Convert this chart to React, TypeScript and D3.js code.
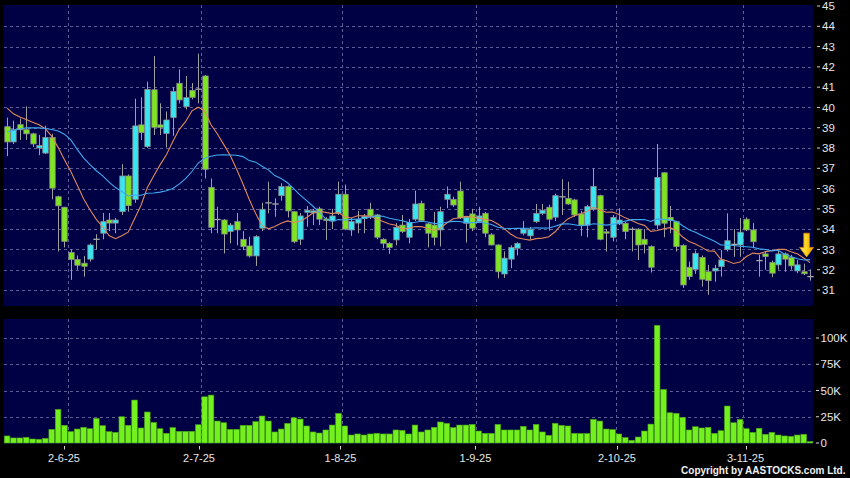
import React from "react";
import * as d3 from "d3";

// ---- data ----
const opens = [39.05,38.3,39.15,38.9,38.7,38.0,37.75,38.52,35.6,35.08,32.85,32.5,32.32,32.52,33.5,33.8,34.45,34.3,34.86,36.62,
35.47,39.14,38.07,40.87,39.14,38.72,39.5,41.19,40.04,40.84,40.92,41.55,36.06,34.5,34.45,33.88,34.37,33.5,33.17,32.68,
34.05,35.32,35.26,35.65,36.1,34.86,33.5,34.83,34.8,35.0,34.5,34.4,34.78,35.72,33.96,34.3,34.52,34.98,34.7,33.5,
33.3,33.47,34.2,33.6,34.49,35.27,34.26,34.2,33.96,35.47,35.47,35.88,34.29,34.75,34.37,34.78,33.72,33.22,31.79,32.52,
33.06,33.8,33.67,34.37,34.78,35.08,34.59,35.62,35.52,35.44,34.75,34.2,34.98,35.65,33.87,33.6,34.26,34.29,34.0,34.0,
33.5,33.14,34.2,36.78,34.58,34.37,33.2,32.12,32.02,32.61,31.9,31.94,32.15,33.0,33.27,33.22,34.49,33.96,32.47,32.78,
32.35,32.24,32.78,32.6,31.94,31.9,31.67];
const highs = [39.5,39.35,39.45,40.05,38.75,38.65,39.1,38.7,35.65,35.1,33.0,32.7,32.68,33.3,33.75,34.8,34.8,34.55,37.2,36.7,
40.43,40.5,41.27,42.53,40.2,39.8,41.0,41.88,41.55,41.2,42.65,41.6,36.5,35.1,34.5,34.3,34.8,33.9,33.63,33.7,
35.3,36.34,35.52,36.26,36.15,34.9,34.8,35.14,35.0,35.1,34.59,35.0,36.34,36.2,34.55,34.9,34.75,35.3,34.75,33.55,
33.35,34.3,34.7,34.5,35.9,35.4,34.3,34.85,35.1,36.1,35.6,36.34,34.65,35.0,35.1,34.85,33.8,33.25,32.9,33.2,
33.35,34.4,34.1,35.24,35.24,35.2,35.75,36.46,36.34,35.5,34.9,35.2,37.0,35.7,34.0,34.7,35.03,34.35,34.1,34.05,
34.0,33.2,38.2,36.8,35.14,34.4,33.25,32.4,32.95,32.7,32.24,32.24,32.97,34.78,34.0,34.55,34.58,34.3,32.73,32.9,
32.45,32.95,32.85,32.73,32.48,32.3,32.02];
const lows = [37.6,38.2,38.4,38.4,38.05,37.65,37.7,35.47,32.9,33.1,31.5,32.0,31.66,32.4,33.0,33.5,33.9,33.8,34.7,34.86,
35.3,38.4,38.0,38.64,38.64,38.03,38.6,40.2,39.9,40.4,40.2,36.5,33.8,33.8,32.8,33.3,33.2,32.97,32.6,32.19,
33.9,34.78,34.61,35.4,34.58,33.3,33.22,34.12,34.2,34.2,33.47,34.0,34.7,33.95,33.67,33.8,33.8,34.5,33.5,33.06,
32.78,33.2,33.8,33.3,34.4,34.35,33.1,33.2,33.15,35.03,35.1,34.5,33.34,33.9,34.3,33.6,33.2,31.58,31.6,32.07,
32.7,33.7,33.5,34.3,34.7,33.93,34.4,34.7,35.2,34.6,33.67,33.6,34.9,33.45,32.9,33.4,34.2,33.5,32.9,32.48,
32.8,31.86,34.0,33.6,33.8,32.9,31.1,31.5,31.8,31.17,30.76,31.41,31.66,32.9,32.64,32.64,33.9,33.06,31.66,32.0,
31.63,32.0,31.9,32.0,31.83,31.74,31.46];
const closes = [38.3,38.9,38.9,38.7,38.2,38.12,38.52,36.02,35.15,33.4,32.5,32.22,32.17,33.22,33.5,34.37,34.3,34.45,36.62,35.16,
39.09,38.76,40.89,39.02,39.02,39.38,40.79,40.37,40.48,40.5,40.88,36.95,34.09,34.45,33.76,34.2,33.96,33.14,32.68,33.63,
34.98,35.27,35.22,36.1,34.9,33.38,34.65,34.93,34.9,34.49,34.42,34.65,35.72,34.0,34.37,34.49,34.62,34.65,33.6,33.3,
33.1,34.09,33.88,34.32,35.24,34.42,33.8,33.6,34.86,35.72,35.19,34.55,34.59,34.05,34.65,33.8,33.22,31.9,32.57,33.1,
33.3,34.0,33.99,34.78,34.93,34.49,35.65,35.57,35.24,34.7,34.2,35.11,36.1,33.5,33.8,34.58,34.45,33.88,33.98,33.22,
33.25,32.12,36.55,34.29,34.42,33.14,31.25,31.66,32.81,31.53,31.46,32.07,32.48,33.43,33.23,33.85,33.96,33.38,32.43,32.65,
31.83,32.78,32.52,32.19,32.24,31.8,31.65];
// closes before the first visible day (needed by the moving averages)
const priorCloses = [37.5,37.5,37.7,38.0,38.3,39.1,37.0,36.55,36.6,38.1,41.7,40.5,39.9,39.5,39.4,40.5,39.8,40.55,39.5];
// volume in thousands
const volumesK = [6.7,4.8,4.8,5.4,3.8,3.5,4.4,13,32,16.8,10.8,13.3,14.9,13.6,23.4,16.5,10.8,10.1,25,16.8,
40.9,14.3,29.5,19.6,13.6,9.2,14.6,11.1,11.1,11.1,17.4,44,45.6,20.9,19.3,13,13,16.8,16.8,20.3,
25.7,20.9,10.5,13.3,18.7,24,22.8,16.2,10.5,9.5,12.4,17.1,28.2,16.2,7.6,8.6,7.6,8.6,9.2,8.6,
8.6,12.4,12,8.6,17.1,10.5,12.4,14.9,20,18.7,14.6,17.1,17.1,17.7,11.4,9.2,9.2,17.7,12.4,12.4,
12.4,15.8,12.4,17.7,10.5,7.3,18.7,16.8,16.2,9.2,9,9,22.5,20.9,13.3,12.7,8.6,5.1,2.5,5.7,
11.4,18,112,51,28.8,28.2,24.4,12.4,15.5,14.3,14.9,9.2,11.7,35.2,19.3,22.5,13.6,10.1,14,8.3,
10.1,7.6,6.7,6.3,7.6,8.3,1.3];
const dateTickIndex = [9, 30, 52, 73, 95, 115];
const dateTickLabels = ["2-6-25", "2-7-25", "1-8-25", "1-9-25", "2-10-25", "3-11-25"];
const priceTicks = [31,32,33,34,35,36,37,38,39,40,41,42,43,44,45];
const volumeTicks = [0, 25000, 50000, 75000, 100000];
const volumeTickLabels = ["0", "25K", "50K", "75K", "100K"];
const maPeriods = [10, 20];

const W = 850, H = 478;
const FONT = "'Liberation Sans', Arial, sans-serif";

export default function App() {
  const n = closes.length;
  const x = d3.scaleLinear().domain([0, n - 1]).range([7.1, 810.1]);
  const step = x(1) - x(0);
  const xLabel = d3.scaleLinear().domain([9, 115]).range([64, 745.5]);
  const y = d3.scaleLinear().domain([31, 45]).range([290, 6]);
  const v = d3.scaleLinear().domain([0, 100000]).range([443, 338]);

  const all = priorCloses.concat(closes);
  const off = priorCloses.length;
  const ma = (p: number) =>
    closes.map((_, i) => d3.mean(all.slice(i + off - p + 1, i + off + 1)) as number);
  const maColors = ["#e0885a", "#3fa9f0"];
  const line = d3.line<number>().x((_, i) => x(i)).y((d) => y(d)).curve(d3.curveLinear);

  const green = "#7ee61e";
  const cyan = "#38e6f2";
  const gridC = "#5c5c96";
  const panelBg = "#000044";
  const bw = 5.4;

  const pTop = 5, pBot = 306, vTop = 319, vBot = 444, left = 4, right = 813;

  const arrowX = x(n - 1) - 3.5;
  const aTop = y(33.8), aMid = y(33.1), aTip = y(32.63);

  return (
    <svg width={W} height={H} style={{ position: "absolute", left: 0, top: 0, display: "block" }}
      fontFamily={FONT}>
      <defs>
        <linearGradient id="arrowG" x1="0" x2="1" y1="0" y2="0">
          <stop offset="0" stopColor="#ffe97a" />
          <stop offset="0.5" stopColor="#ffd21a" />
          <stop offset="1" stopColor="#f0a000" />
        </linearGradient>
      </defs>
      <rect x={0} y={0} width={W} height={H} fill="#000" />
      {/* price panel */}
      <rect x={left} y={pTop} width={right - left} height={pBot - pTop} fill={panelBg} />
      {priceTicks.filter((t) => t < 45).map((t) => (
        <line key={"pg" + t} x1={left} x2={right} y1={Math.round(y(t)) + 0.5} y2={Math.round(y(t)) + 0.5}
          stroke={gridC} strokeDasharray="3,3" strokeWidth={1} />
      ))}
      {dateTickIndex.map((i) => (
        <line key={"pv" + i} x1={Math.round(x(i) + step / 2) + 0.5} x2={Math.round(x(i) + step / 2) + 0.5}
          y1={pTop} y2={pBot} stroke={gridC} strokeDasharray="3,3" />
      ))}
      {/* volume panel */}
      <rect x={left} y={vTop} width={right - left} height={vBot - vTop} fill={panelBg} />
      {volumeTicks.filter((t) => t > 0).map((t) => (
        <line key={"vg" + t} x1={left} x2={right} y1={Math.round(v(t)) + 0.5} y2={Math.round(v(t)) + 0.5}
          stroke={gridC} strokeDasharray="3,3" />
      ))}
      {dateTickIndex.map((i) => (
        <line key={"vv" + i} x1={Math.round(x(i) + step / 2) + 0.5} x2={Math.round(x(i) + step / 2) + 0.5}
          y1={vTop} y2={vBot} stroke={gridC} strokeDasharray="3,3" />
      ))}
      {/* volume bars */}
      {volumesK.map((vk, i) => {
        const top = v(vk * 1000);
        return (
          <rect key={"vb" + i} x={x(i) - 2.8} y={top} width={5.6} height={Math.max(0.8, v(0) - top)}
            fill="#74f01e" stroke="#4aa814" strokeWidth={0.6} />
        );
      })}
      {/* candles */}
      {closes.map((c, i) => {
        const o = opens[i];
        const cx = Math.round(x(i)) + 0.5;
        const doji = Math.abs(c - o) < 0.06;
        const fill = doji ? "#a8a8a8" : c > o ? cyan : green;
        const yt = y(Math.max(o, c)), yb = y(Math.min(o, c));
        return (
          <g key={"c" + i}>
            <line x1={cx} x2={cx} y1={y(highs[i])} y2={y(lows[i])} stroke="#a0a0a0" strokeWidth={1} />
            {doji ? (
              <line x1={cx - bw / 2 - 0.5} x2={cx + bw / 2 + 0.5} y1={(yt + yb) / 2} y2={(yt + yb) / 2}
                stroke="#a8a8a8" strokeWidth={1.3} />
            ) : (
              <rect x={cx - bw / 2} y={yt} width={bw} height={Math.max(1.2, yb - yt)} fill={fill}
                stroke="#8c8c8c" strokeWidth={0.8} />
            )}
          </g>
        );
      })}
      {/* moving averages */}
      {maPeriods.map((p, k) => (
        <path key={"ma" + p} d={line(ma(p)) as string} fill="none" stroke={maColors[k]} strokeWidth={1.1} />
      ))}
      {/* arrow marker */}
      <path d={`M${arrowX - 2.8},${aTop} L${arrowX + 2.8},${aTop} L${arrowX + 2.8},${aMid} L${arrowX + 7},${aMid} L${arrowX},${aTip} L${arrowX - 7},${aMid} L${arrowX - 2.8},${aMid} Z`}
        fill="url(#arrowG)" stroke="#d98a00" strokeWidth={0.8} />
      {/* right axis: price */}
      {priceTicks.map((t) => (
        <g key={"pt" + t}>
          <line x1={817} x2={820} y1={y(t)} y2={y(t)} stroke="#d0d0d0" />
          <text x={822} y={y(t)} dy="0.36em" fontSize={11.5} fill="#e6e6e6">{t}</text>
        </g>
      ))}
      {/* right axis: volume */}
      {volumeTicks.map((t, k) => (
        <g key={"vt" + t}>
          <line x1={816} x2={819} y1={v(t)} y2={v(t)} stroke="#d0d0d0" />
          <text x={820.5} y={v(t)} dy="0.36em" fontSize={11.5} fill="#e6e6e6">{volumeTickLabels[k]}</text>
        </g>
      ))}
      {/* date axis */}
      {dateTickIndex.map((i, k) => (
        <g key={"dt" + i}>
          <line x1={Math.round(xLabel(i)) + 0.5} x2={Math.round(xLabel(i)) + 0.5} y1={446} y2={449.5} stroke="#d0d0d0" />
          <text x={xLabel(i)} y={461.5} textAnchor="middle" fontSize={11} fill="#e6e6e6">{dateTickLabels[k]}</text>
        </g>
      ))}
      <text x={845.5} y={474} textAnchor="end" fontSize={10} fontWeight="bold" fill="#f0f0f0">
        Copyright by AASTOCKS.com Ltd.
      </text>
    </svg>
  );
}
